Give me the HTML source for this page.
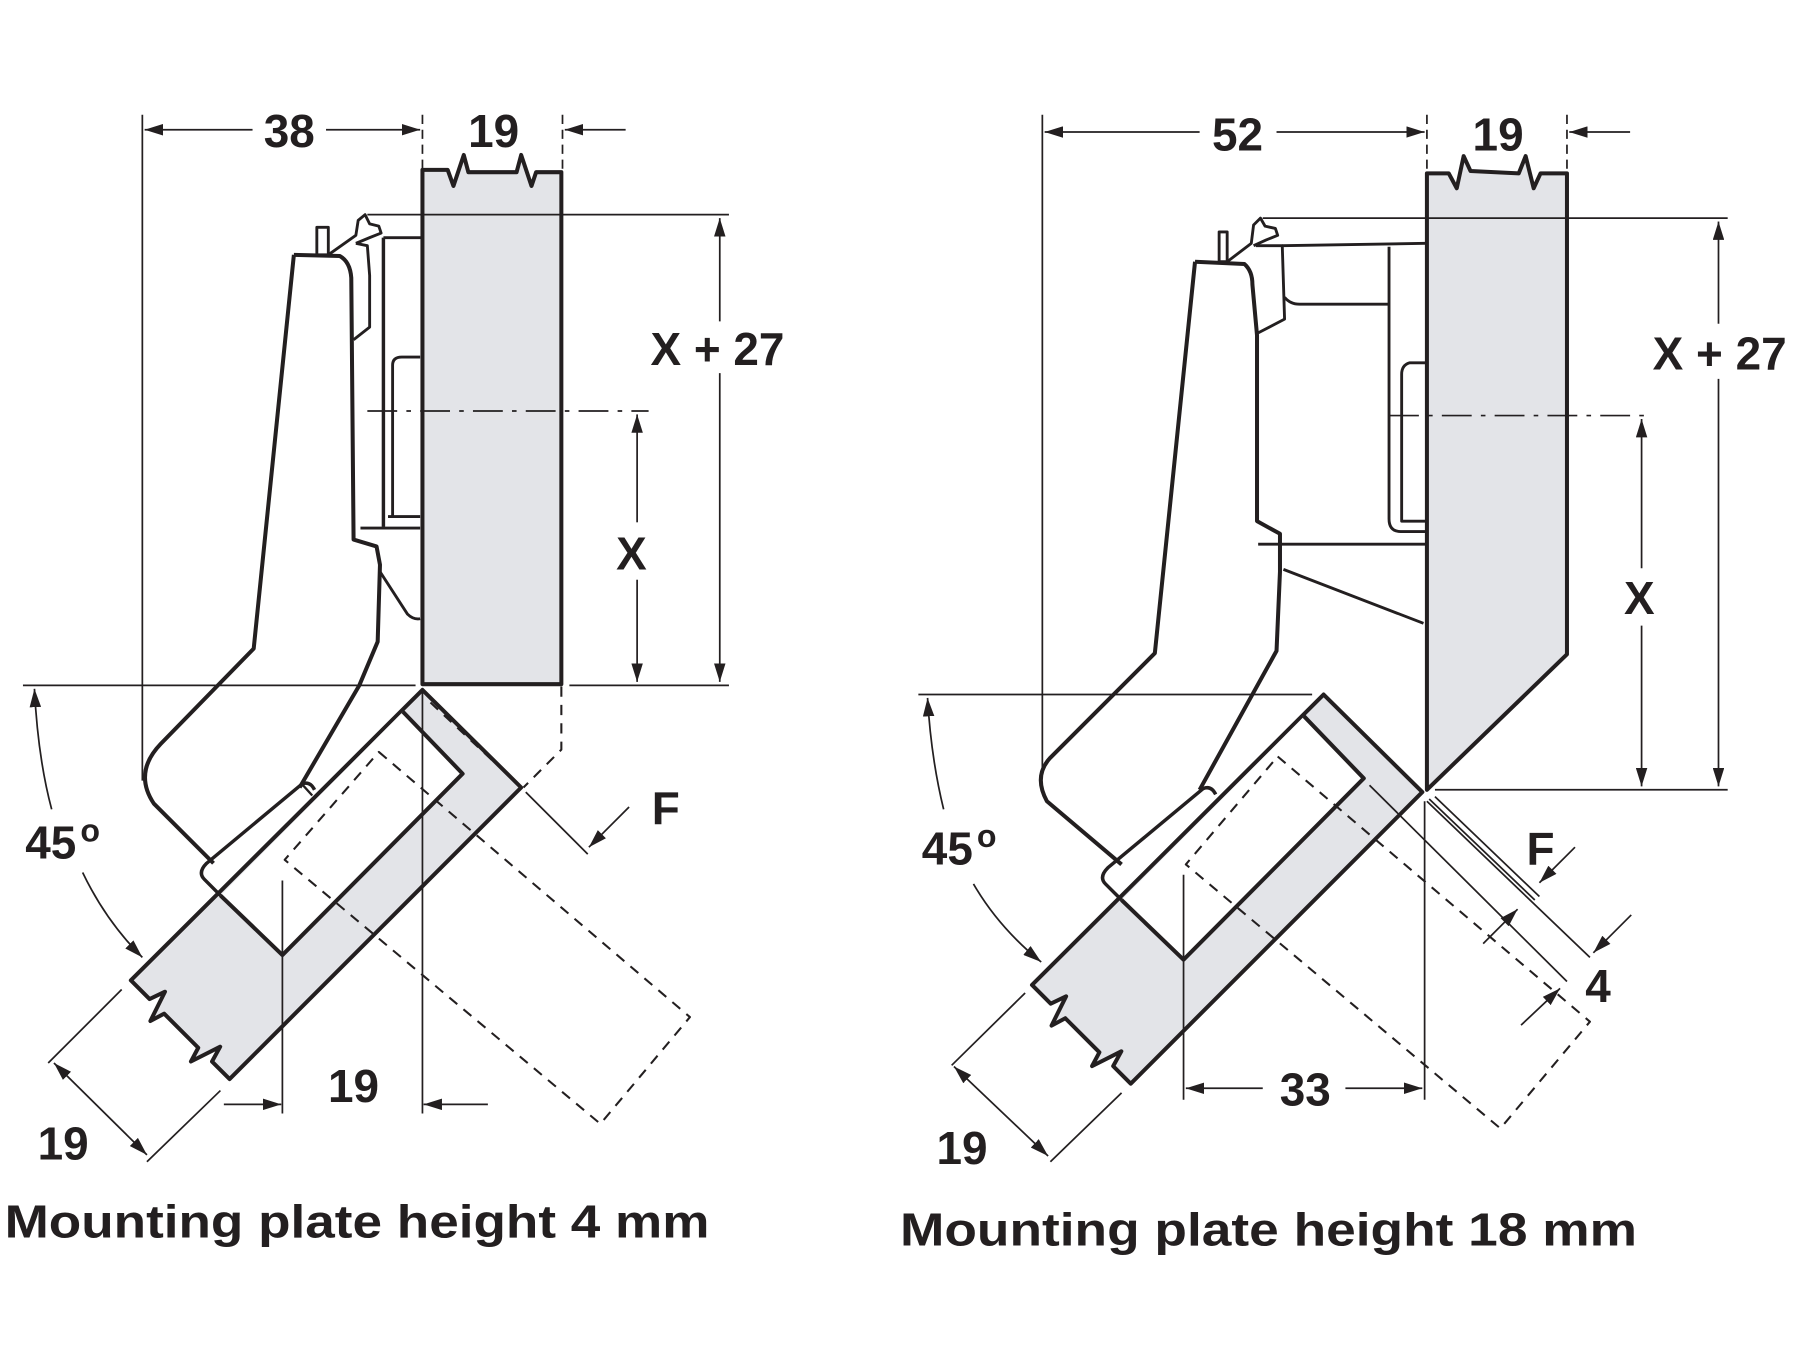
<!DOCTYPE html>
<html><head><meta charset="utf-8"><style>
html,body{margin:0;padding:0;background:#fff;}
svg{display:block;}
text{font-family:"Liberation Sans",Arial,sans-serif;font-weight:bold;fill:#231f20;}
</style></head><body>
<svg width="1800" height="1350" viewBox="0 0 1568 1176" preserveAspectRatio="none" xmlns="http://www.w3.org/2000/svg">
<defs>
<marker id="a" viewBox="0 0 16 10" refX="16" refY="5" markerWidth="16" markerHeight="10" markerUnits="userSpaceOnUse" orient="auto-start-reverse"><path d="M0,0 L16,5 L0,10 Z" fill="#231f20"/></marker>
</defs>
<g fill="none" stroke="#231f20" stroke-linejoin="round">

<!-- ================= LEFT ================= -->
<!-- extension lines -->
<line x1="124" y1="100" x2="124" y2="680" stroke-width="1.5"/>
<line x1="368" y1="100" x2="368" y2="147" stroke-width="1.5" stroke-dasharray="8,5"/>
<line x1="490" y1="100" x2="490" y2="147" stroke-width="1.5" stroke-dasharray="8,5"/>
<line x1="126" y1="113" x2="220" y2="113" stroke-width="1.5" marker-start="url(#a)"/>
<line x1="284" y1="113" x2="366" y2="113" stroke-width="1.5" marker-end="url(#a)"/>
<line x1="545" y1="113" x2="492" y2="113" stroke-width="1.5" marker-end="url(#a)"/>
<!-- door -->
<path d="M368,148 L390,148 L395,162 L404,135 L408,150 L450,150 L454,135 L463,162 L467,150 L489,150 L489,596 L368,596 Z" fill="#e3e4e8" stroke-width="3.5"/>
<!-- horizontal refs -->
<line x1="320" y1="187" x2="635" y2="187" stroke-width="1.5"/>
<line x1="320" y1="358" x2="565" y2="358" stroke-width="1.5" stroke-dasharray="26,8,4,8"/>
<line x1="20" y1="597" x2="362" y2="597" stroke-width="1.5"/>
<line x1="496" y1="597" x2="635" y2="597" stroke-width="1.5"/>
<line x1="627" y1="190" x2="627" y2="280" stroke-width="1.5" marker-start="url(#a)"/>
<line x1="627" y1="325" x2="627" y2="594" stroke-width="1.5" marker-end="url(#a)"/>
<line x1="555" y1="361" x2="555" y2="455" stroke-width="1.5" marker-start="url(#a)"/>
<line x1="555" y1="505" x2="555" y2="594" stroke-width="1.5" marker-end="url(#a)"/>
<!-- arm -->
<path d="M256,222 L221,565 L140,648 Q116,673 134,700 L186,752" stroke-width="3.5"/>
<path d="M256,222 L296,223 Q305,228 306,242 L308,470 L328,476 L331,492 L329,559 L313,597 L261,686" stroke-width="3.5"/>
<rect x="276" y="198" width="10" height="24" stroke-width="2.5" fill="#fff"/>
<path d="M286,222 L310,205 L312,192 L318,187 L322,195 L330,197 L332,203 L322,207 L310,212" stroke-width="2.5"/>
<path d="M310,212 L320,214 L322,240 L322,285 L308,296" stroke-width="2.5"/>
<line x1="334" y1="207" x2="334" y2="459" stroke-width="3"/>
<line x1="334" y1="207" x2="367" y2="207" stroke-width="2.5"/>
<path d="M342,450 L342,318 Q342,311 350,311 L366,311" stroke-width="2.5"/>
<line x1="338" y1="450" x2="366" y2="450" stroke-width="2.5"/>
<line x1="314" y1="460" x2="366" y2="460" stroke-width="2.5"/>
<path d="M331,498 L355,535 Q360,540 366,539" stroke-width="2.5"/>
<!-- rotated door -->
<path d="M368,601 L454,686 L200,940 L184.7,924.7 L191.8,911.8 L166.3,924.7 L172.7,912.7 L143,883 L131,889.4 L143.7,863.9 L130.3,870.3 L114,854 Z" fill="#e3e4e8" stroke-width="3.5"/>
<path d="M351,620 L403,674 L246,832 L192,780" fill="#fff" stroke-width="3.5"/>
<path d="M192,780 L178,766 Q172,760 180,752 L263,683 Q270,680 274,688" stroke-width="3" fill="none"/>
<line x1="263" y1="683" x2="272" y2="693" stroke-width="2"/>
<!-- dashed -->
<path d="M330,655 L601,886 L523,979 L248,749 Z" stroke-width="1.8" stroke-dasharray="9,7"/>
<line x1="375" y1="612" x2="452" y2="684" stroke-width="1.8" stroke-dasharray="9,7"/>
<path d="M489,598 L489,653 L456,686" stroke-width="1.8" stroke-dasharray="9,7"/>
<!-- verticals bottom -->
<line x1="368" y1="603" x2="368" y2="970" stroke-width="1.5"/>
<line x1="246" y1="767" x2="246" y2="970" stroke-width="1.5"/>
<line x1="195" y1="962" x2="245" y2="962" stroke-width="1.5" marker-end="url(#a)"/>
<line x1="425" y1="962" x2="369" y2="962" stroke-width="1.5" marker-end="url(#a)"/>
<!-- F -->
<line x1="458" y1="690" x2="512" y2="744" stroke-width="1.5"/>
<line x1="548" y1="703" x2="513" y2="738" stroke-width="1.5" marker-end="url(#a)"/>
<!-- 45 arc -->
<path d="M45,705 Q33,660 30,600" stroke-width="1.5" marker-end="url(#a)"/>
<path d="M72,760 Q92,802 124,834" stroke-width="1.5" marker-end="url(#a)"/>
<!-- 19 lower-left -->
<line x1="106" y1="862" x2="42" y2="926" stroke-width="1.5"/>
<line x1="192" y1="950" x2="128" y2="1012" stroke-width="1.5"/>
<line x1="47" y1="926" x2="128" y2="1006" stroke-width="1.5" marker-start="url(#a)" marker-end="url(#a)"/>

<!-- ================= RIGHT ================= -->
<line x1="908" y1="100" x2="908" y2="672" stroke-width="1.5"/>
<line x1="1243" y1="100" x2="1243" y2="150" stroke-width="1.5" stroke-dasharray="8,5"/>
<line x1="1365" y1="100" x2="1365" y2="150" stroke-width="1.5" stroke-dasharray="8,5"/>
<line x1="910" y1="115" x2="1045" y2="115" stroke-width="1.5" marker-start="url(#a)"/>
<line x1="1112" y1="115" x2="1241" y2="115" stroke-width="1.5" marker-end="url(#a)"/>
<line x1="1420" y1="115" x2="1367" y2="115" stroke-width="1.5" marker-end="url(#a)"/>
<path d="M1243,151 L1262,151 L1269,164 L1275,136 L1281,149 L1323,151 L1329,136 L1336,164 L1342,151 L1365,151 L1365,570 L1243,688 Z" fill="#e3e4e8" stroke-width="3.5"/>
<line x1="1100" y1="190" x2="1505" y2="190" stroke-width="1.5"/>
<line x1="1210" y1="362" x2="1440" y2="362" stroke-width="1.5" stroke-dasharray="26,8,4,8"/>
<line x1="1250" y1="688" x2="1505" y2="688" stroke-width="1.5"/>
<line x1="800" y1="605" x2="1143" y2="605" stroke-width="1.5"/>
<line x1="1497" y1="193" x2="1497" y2="282" stroke-width="1.5" marker-start="url(#a)"/>
<line x1="1497" y1="330" x2="1497" y2="685" stroke-width="1.5" marker-end="url(#a)"/>
<line x1="1430" y1="365" x2="1430" y2="495" stroke-width="1.5" marker-start="url(#a)"/>
<line x1="1430" y1="545" x2="1430" y2="685" stroke-width="1.5" marker-end="url(#a)"/>
<!-- arm -->
<path d="M1041,228 L1006,569 L915,660 Q900,676 912,698 L977,753" stroke-width="3.5"/>
<path d="M1041,228 L1084,230 Q1091,236 1091,248 L1095,292 L1095,454 L1115,465 L1115,498 L1112,567 L1045,688" stroke-width="3.5"/>
<rect x="1062" y="202" width="7" height="26" stroke-width="2.5" fill="#fff"/>
<path d="M1069,228 L1090,212 L1092,196 L1098,190 L1102,197 L1111,199 L1113,205 L1103,209 L1092,214" stroke-width="2.5"/>
<path d="M1094,214 L1117,214 L1119,278 L1096,290" stroke-width="2.5"/>
<line x1="1117" y1="214" x2="1242" y2="212" stroke-width="2.5"/>
<path d="M1119,259 Q1124,265 1132,265 L1210,265" stroke-width="2.5"/>
<path d="M1210,215 L1210,452 Q1210,463 1220,463 L1242,463" stroke-width="2.5"/>
<path d="M1242,316 L1228,316 Q1221,318 1221,326 L1221,454 L1242,454" stroke-width="2.5"/>
<line x1="1096" y1="474" x2="1242" y2="474" stroke-width="2.5"/>
<line x1="1118" y1="496" x2="1240" y2="543" stroke-width="2.5"/>
<!-- rotated door -->
<path d="M1153,605 L1239,690 L985,944 L969.7,928.7 L976.8,915.8 L951.3,928.7 L957.7,916.7 L928,887 L916,893.4 L928.7,867.9 L915.3,874.3 L899,858 Z" fill="#e3e4e8" stroke-width="3.5"/>
<path d="M1136,624 L1188,678 L1031,836 L977,784" fill="#fff" stroke-width="3.5"/>
<path d="M977,784 L963,770 Q957,764 965,756 L1048,687 Q1055,684 1059,692" stroke-width="3"/>
<!-- dashed -->
<path d="M1113,659 L1385,890 L1307,983 L1033,753 Z" stroke-width="1.8" stroke-dasharray="9,7"/>
<!-- thin lines F/4 -->
<line x1="1193" y1="684" x2="1365" y2="855" stroke-width="1.5"/>
<line x1="1245" y1="696" x2="1337" y2="784" stroke-width="1.5"/>
<line x1="1250" y1="694" x2="1341" y2="781" stroke-width="1.5"/>
<line x1="1243" y1="698" x2="1385" y2="834" stroke-width="1.5"/>
<line x1="1372" y1="738" x2="1341" y2="769" stroke-width="1.5" marker-end="url(#a)"/>
<line x1="1292" y1="822" x2="1322" y2="792" stroke-width="1.5" marker-end="url(#a)"/>
<line x1="1421" y1="797" x2="1388" y2="830" stroke-width="1.5" marker-end="url(#a)"/>
<line x1="1325" y1="893" x2="1359" y2="861" stroke-width="1.5" marker-end="url(#a)"/>
<!-- 33 -->
<line x1="1031" y1="762" x2="1031" y2="958" stroke-width="1.5"/>
<line x1="1241" y1="698" x2="1241" y2="958" stroke-width="1.5"/>
<line x1="1033" y1="948" x2="1100" y2="948" stroke-width="1.5" marker-start="url(#a)"/>
<line x1="1172" y1="948" x2="1239" y2="948" stroke-width="1.5" marker-end="url(#a)"/>
<!-- 45 arc -->
<path d="M822,705 Q811,660 808,608" stroke-width="1.5" marker-end="url(#a)"/>
<path d="M848,770 Q870,808 907,838" stroke-width="1.5" marker-end="url(#a)"/>
<!-- 19 -->
<line x1="893" y1="865" x2="829" y2="928" stroke-width="1.5"/>
<line x1="977" y1="952" x2="915" y2="1012" stroke-width="1.5"/>
<line x1="831" y1="929" x2="913" y2="1007" stroke-width="1.5" marker-start="url(#a)" marker-end="url(#a)"/>
</g>

<!-- texts -->
<text x="252" y="128" font-size="40" text-anchor="middle">38</text>
<text x="430" y="128" font-size="40" text-anchor="middle">19</text>
<rect x="555" y="283" width="140" height="40" fill="#fff"/>
<text x="625" y="318" font-size="40" text-anchor="middle">X + 27</text>
<text x="550" y="496" font-size="40" text-anchor="middle">X</text>
<text x="580" y="718" font-size="40" text-anchor="middle">F</text>
<text x="22" y="748" font-size="40">45</text>
<text x="70" y="733" font-size="28">o</text>
<text x="308" y="960" font-size="40" text-anchor="middle">19</text>
<text x="55" y="1010" font-size="40" text-anchor="middle">19</text>
<text x="4" y="1078" font-size="40" textLength="614" lengthAdjust="spacingAndGlyphs">Mounting plate height 4 mm</text>

<text x="1078" y="131" font-size="40" text-anchor="middle">52</text>
<text x="1305" y="131" font-size="40" text-anchor="middle">19</text>
<rect x="1430" y="287" width="140" height="40" fill="#fff"/>
<text x="1498" y="322" font-size="40" text-anchor="middle">X + 27</text>
<text x="1428" y="535" font-size="40" text-anchor="middle">X</text>
<text x="1342" y="753" font-size="40" text-anchor="middle">F</text>
<text x="1392" y="873" font-size="40" text-anchor="middle">4</text>
<text x="1137" y="963" font-size="40" text-anchor="middle">33</text>
<text x="803" y="753" font-size="40">45</text>
<text x="851" y="738" font-size="28">o</text>
<text x="838" y="1014" font-size="40" text-anchor="middle">19</text>
<text x="784" y="1085" font-size="40" textLength="642" lengthAdjust="spacingAndGlyphs">Mounting plate height 18 mm</text>
</svg>
</body></html>
